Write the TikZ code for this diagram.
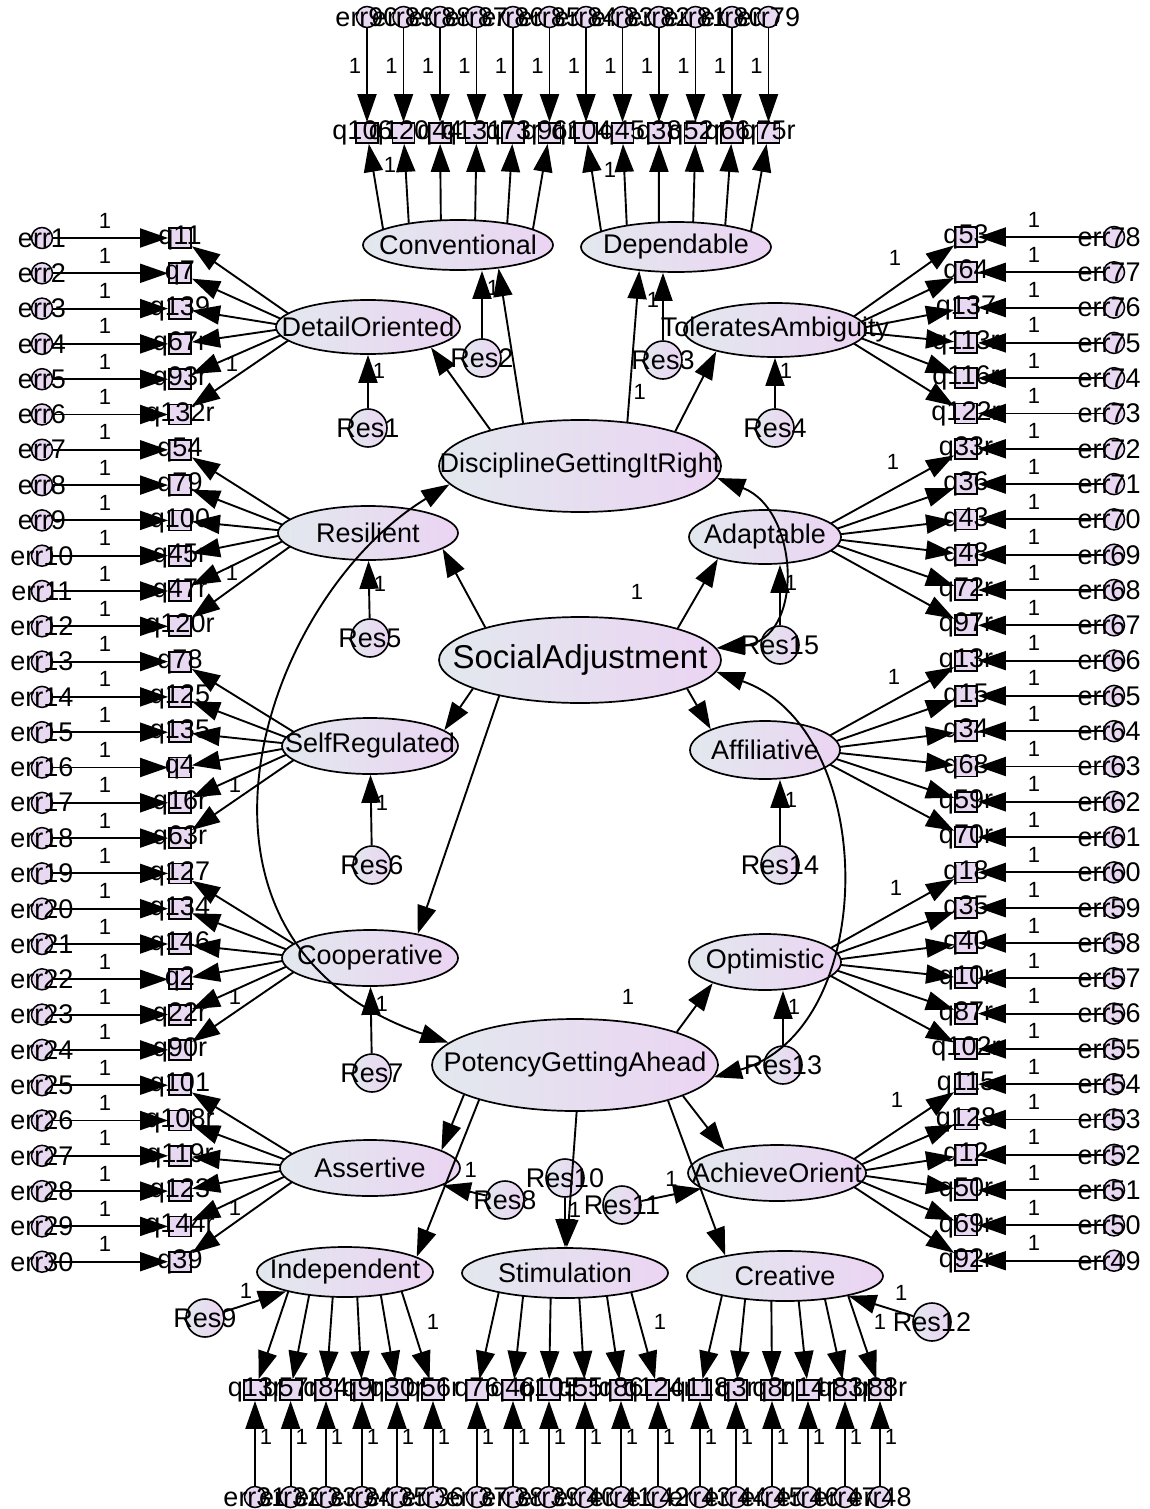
\documentclass[tikz,border=0pt]{standalone}
\usepackage{fontspec}
\setmainfont{Liberation Sans}
\usetikzlibrary{arrows.meta,shapes.geometric,calc}
\definecolor{latL}{HTML}{E2E8EE}
\definecolor{latR}{HTML}{EBD4F2}
\definecolor{obsF}{HTML}{E8D8F2}
\tikzset{
  lat/.style={ellipse, draw, line width=1.7pt, left color=latL, right color=latR, inner sep=0pt},
  obs/.style={rectangle, draw, line width=1.8pt, fill=obsF, minimum width=22pt, minimum height=20pt, inner sep=0pt},
  errc/.style={circle, draw, line width=1.5pt, fill=obsF, minimum size=21pt, inner sep=0pt},
  resc/.style={circle, draw, line width=1.6pt, left color=latL, right color=latR, minimum size=38pt, inner sep=0pt},
  txt/.style={font=\fontsize{27}{32}\selectfont, inner sep=0pt},
  bigtxt/.style={font=\fontsize{33}{38}\selectfont, inner sep=0pt},
  one/.style={font=\fontsize{22}{26}\selectfont, inner sep=1pt},
  arr/.style={line width=1.9pt, -{Triangle[length=28pt,width=19pt]}},
  cov/.style={line width=1.9pt, {Triangle[length=28pt,width=19pt]}-{Triangle[length=28pt,width=19pt]}},
}
% latent variable: name, x, y, width, height, text
\newcommand\latvar[6]{\node[lat,minimum width=#4pt,minimum height=#5pt] (#1) at (#2,#3) {};\node[txt] at (#1) {#6};}
% residual: name, x, y, text
\newcommand\resvar[4]{\node[resc] (#1) at (#2,#3) {};\node[txt] at (#1) {#4};}
% six loadings fanning out of one factor:
% factor, half width, half height, item prefix, first item, first angle, angle step
\newcommand\fan[7]{%
  \foreach \k in {0,...,5}{%
    \pgfmathtruncatemacro\ii{#5+\k}%
    \pgfmathsetmacro\pp{#6+#7*\k}%
    \draw[arr] ($(#1)+({#2*cos(\pp)},{-#3*sin(\pp)})$) -- (#4\ii);}}
\begin{document}
\begin{tikzpicture}[x=1pt,y=-1pt]
\useasboundingbox (0,0) rectangle (1150,1509);

% ---------- latent factors ----------
\latvar{CON}{458}{245}{190}{50}{Conventional}
\latvar{DEP}{676}{247}{190}{50}{Dependable}
\latvar{DET}{368}{327}{184}{54}{DetailOriented}
\latvar{TOL}{775}{330}{182}{54}{ToleratesAmbiguity}
\latvar{DGR}{580}{466}{282}{92}{DisciplineGettingItRight}
\latvar{RES}{368}{533}{180}{54}{Resilient}
\latvar{ADA}{765}{537}{152}{54}{Adaptable}
\node[lat,minimum width=282pt,minimum height=86pt] (SOC) at (580,660) {};
\node[bigtxt] at (SOC) {SocialAdjustment};
\latvar{SEL}{370}{746}{176}{56}{SelfRegulated}
\latvar{AFF}{765}{750}{150}{58}{Affiliative}
\latvar{COO}{370}{958}{176}{56}{Cooperative}
\latvar{OPT}{765}{962}{152}{56}{Optimistic}
\latvar{POT}{575}{1065}{286}{92}{PotencyGettingAhead}
\latvar{ASS}{370}{1168}{180}{56}{Assertive}
\latvar{ACH}{777}{1173}{178}{56}{AchieveOrient}
\latvar{IND}{345}{1272}{176}{50}{Independent}
\latvar{STI}{565}{1273}{206}{50}{Stimulation}
\latvar{CRE}{785}{1276}{196}{50}{Creative}

% ---------- residuals ----------
\resvar{Rs1}{368}{428}{Res1}
\resvar{Rs2}{482}{358}{Res2}
\resvar{Rs3}{663}{360}{Res3}
\resvar{Rs4}{775}{428}{Res4}
\resvar{Rs5}{370}{638}{Res5}
\resvar{Rs6}{372}{865}{Res6}
\resvar{Rs7}{372}{1073}{Res7}
\resvar{Rs8}{505}{1200}{Res8}
\resvar{Rs9}{205}{1318}{Res9}
\resvar{Rs10}{565}{1178}{Res10}
\resvar{Rs11}{622}{1205}{Res11}
\resvar{Rs12}{932}{1322}{Res12}
\resvar{Rs13}{783}{1065}{Res13}
\resvar{Rs14}{780}{865}{Res14}
\resvar{Rs15}{780}{645}{Res15}

% ---------- left indicators ----------
\foreach \q [count=\i] in {q11,q7,q139,q67r,q93r,q132r,q54,q79,q100,q45r,q47r,q120r,q78,q125,q135,q4,q16r,q63r,q127,q134,q146,q2,q22r,q90r,q101,q108r,q119r,q123,q144r,q39}{
  \pgfmathsetmacro\yy{238+(\i-1)*35.3}
  \node[obs] (L\i) at (180,\yy) {};
  \node[txt] at (L\i) {\q};
  \node[errc] (eL\i) at (42,\yy) {};
  \node[txt] at (eL\i) {err\i};
  \draw[arr] (eL\i) -- node[one, above=8pt, pos=0.45] {1} (L\i);
}

% ---------- right indicators ----------
\foreach \q [count=\i] in {q53,q64,q137,q113r,q116r,q122r,q33r,q36,q43,q48,q72r,q97r,q13r,q15,q34,q68,q59r,q70r,q18,q35,q40,q10r,q87r,q102r,q115,q128,q12,q50r,q69r,q92r}{
  \pgfmathsetmacro\yy{237+(\i-1)*35.3}
  \pgfmathtruncatemacro\en{79-\i}
  \node[obs] (R\i) at (966,\yy) {};
  \node[txt] at (R\i) {\q};
  \node[errc] (eR\i) at (1114,\yy) {};
  \node[txt] at ([xshift=-5pt]eR\i.center) {err\en};
  \draw[arr] (eR\i) -- node[one, above=8pt, pos=0.55] {1} (R\i);
}

% ---------- top indicators ----------
\foreach \q [count=\i] in {q106r,q120r,q44,q131r,q73r,q96r,q104r,q45,q38,q52r,q66r,q75r}{
  \pgfmathsetmacro\xx{367+(\i-1)*36.5}
  \pgfmathtruncatemacro\en{91-\i}
  \node[obs] (T\i) at (\xx,133) {};
  \node[txt] at (T\i) {\q};
  \node[errc] (eT\i) at (\xx,17) {};
  \node[txt] at (eT\i) {err\en};
  \draw[arr] (eT\i) -- node[one, left=4pt, pos=0.4] {1} (T\i);
}

% ---------- bottom indicators ----------
\foreach \q/\xx [count=\i] in {q13r/255,q57r/290.6,q84/326,q9r/362,q30r/397,q56r/433,
  q76/477,q46/513,q105/549,q55r/585,q86/621,q124r/658,
  q118/700,q3r/736,q8r/772,q14r/808,q83r/845,q88r/880}{
  \pgfmathtruncatemacro\en{30+\i}
  \node[obs] (B\i) at (\xx,1390) {};
  \node[txt] at (B\i) {\q};
  \node[errc] (eB\i) at (\xx,1497) {};
  \node[txt] at (eB\i) {err\en};
  \draw[arr] (eB\i) -- node[one, right=3pt, pos=0.58] {1} (B\i);
}

% ---------- factor loadings on items ----------
\fan{DET}{92}{27}{L}{1}{150}{12}
\fan{RES}{90}{27}{L}{7}{150}{12}
\fan{SEL}{88}{28}{L}{13}{150}{12}
\fan{COO}{88}{28}{L}{19}{150}{12}
\fan{ASS}{90}{28}{L}{25}{150}{12}
\fan{TOL}{91}{27}{R}{1}{30}{-12}
\fan{ADA}{76}{27}{R}{7}{30}{-12}
\fan{AFF}{75}{29}{R}{13}{30}{-12}
\fan{OPT}{76}{28}{R}{19}{30}{-12}
\fan{ACH}{89}{28}{R}{25}{30}{-12}
\fan{CON}{95}{25}{T}{1}{142}{-20.8}
\fan{DEP}{95}{25}{T}{7}{142}{-20.8}
\fan{IND}{88}{25}{B}{1}{230}{16}
\fan{STI}{103}{25}{B}{7}{230}{16}
\fan{CRE}{98}{25}{B}{13}{230}{16}

% fixed loadings
\node[one] at ($(L5)+(52,-15)$) {1};
\node[one] at ($(L11)+(52,-18)$) {1};
\node[one] at ($(L17)+(55,-18)$) {1};
\node[one] at ($(L23)+(55,-18)$) {1};
\node[one] at ($(L29)+(55,-18)$) {1};
\node[one] at ($(R1)+(-71,21)$) {1};
\node[one] at ($(R7)+(-73,13)$) {1};
\node[one] at ($(R13)+(-72,16)$) {1};
\node[one] at ($(R19)+(-70,16)$) {1};
\node[one] at ($(R25)+(-69,16)$) {1};
\node[one] at ($(T1)+(23,32)$) {1};
\node[one] at ($(T7)+(24,37)$) {1};
\node[one] at ($(B6)+(0,-68)$) {1};
\node[one] at ($(B12)+(2,-68)$) {1};
\node[one] at ($(B18)+(0,-68)$) {1};

% ---------- second-order loadings ----------
\draw[arr] (DGR.143) -- (CON.-30);
\draw[arr] (DGR.43) -- node[one, pos=0.2, right=2pt] {1} (DEP.213);
\draw[arr] (DGR.158) -- (DET.-18);
\draw[arr] (DGR.20) -- (TOL.200);
\draw[arr] (SOC.161) -- (RES.-12);
\draw[arr] (SOC.18) -- (ADA.205);
\draw[arr] (SOC.195) -- (SEL.12);
\draw[arr] (SOC.-15) -- (AFF.159);
\draw[arr] (SOC.204) -- (COO.27);
\draw[arr] (POT.18) -- (OPT.202);
\draw[arr] (POT.-16) -- (ACH.156);
\draw[arr] (POT.195) -- (ASS.14);
\draw[arr] (POT.200) -- (IND.12);
\draw[arr] (POT.-88) -- (STI.86);
\draw[arr] (POT.-21) -- (CRE.161);
\node[one] at ($(SOC)+(57,-68)$) {1};
\node[one] at ($(POT)+(53,-68)$) {1};

% ---------- residual paths ----------
\draw[arr] (Rs1) -- node[one, right=3pt, pos=0.7] {1} (DET);
\draw[arr] (Rs2) -- node[one, right=3pt, pos=0.75] {1} (CON.south -| Rs2);
\draw[arr] (Rs3) -- node[one, left=2pt, pos=0.6] {1} (DEP.south -| Rs3);
\draw[arr] (Rs4) -- node[one, right=3pt, pos=0.75] {1} (TOL);
\draw[arr] (Rs5) -- node[one, right=3pt, pos=0.6] {1} (RES);
\draw[arr] (Rs6) -- node[one, right=3pt, pos=0.6] {1} (SEL);
\draw[arr] (Rs7) -- node[one, right=3pt, pos=0.75] {1} (COO);
\draw[arr] (Rs8) -- node[one, above=12pt, pos=0.35] {1} (ASS);
\draw[arr] (Rs9) -- node[one, above left=1pt] {1} (IND);
\draw[arr] (Rs10) -- node[one, right=2pt, pos=0.25] {1} (STI);
\draw[arr] (Rs11) -- node[one, above=6pt] {1} (ACH);
\draw[arr] (Rs12) -- node[one, above right=6pt, pos=0.4] {1} (CRE);
\draw[arr] (Rs13) -- node[one, right=3pt, pos=0.7] {1} (OPT.south -| Rs13);
\draw[arr] (Rs14) -- node[one, right=3pt, pos=0.7] {1} (AFF.south -| Rs14);
\draw[arr] (Rs15) -- node[one, right=3pt, pos=0.7] {1} (ADA.south -| Rs15);

% ---------- covariances ----------
\draw[cov] (DGR.188) .. controls (260,600) and (150,940) .. (POT.170);
\draw[cov] (DGR.-5) .. controls (800,510) and (805,640) .. (SOC.5);
\draw[cov] (SOC.-5) .. controls (880,730) and (880,1030) .. (POT.-5);
\end{tikzpicture}
\end{document}
